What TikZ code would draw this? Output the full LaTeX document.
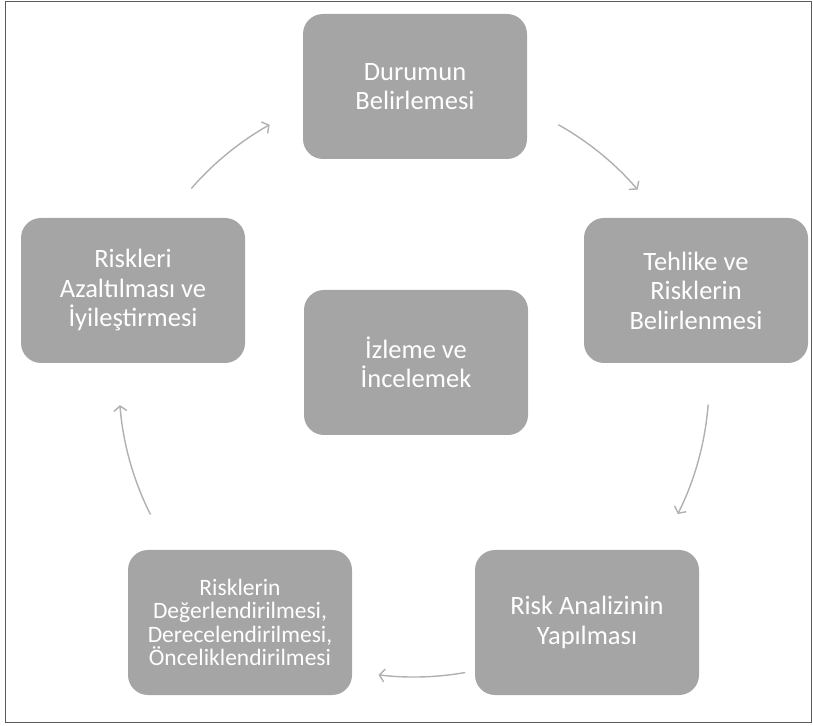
\documentclass[tikz,border=0pt]{standalone}
\usepackage{fontspec}
\setmainfont{Carlito}
\usetikzlibrary{arrows.meta}
\definecolor{boxgray}{HTML}{A5A5A5}
\definecolor{arrowgray}{HTML}{B0B0B0}
\definecolor{framegray}{HTML}{5A5A5A}
\begin{document}
\begin{tikzpicture}[x=1pt,y=1pt,
  stage/.style={fill=boxgray, rounded corners=20pt, minimum width=224pt,
    minimum height=145pt, text=white, align=center, inner sep=0pt,
    font=\fontsize{26.5}{29.5}\selectfont},
  smalltext/.style={font=\fontsize{23.5}{23.5}\selectfont},
  flow/.style={draw=arrowgray, line width=1.4pt,
    -{Straight Barb[length=5pt,width=13pt]}}]
\useasboundingbox (0,0) rectangle (813,725);
% outer frame
\draw[framegray, line width=1pt] (5.5,3) rectangle (811,723.5);

% the six stages
\node[stage] (durum)  at (415,638.5) {Durumun\\Belirlemesi};
\node[stage] (tehlike) at (696,434.5) {Tehlike ve\\Risklerin\\Belirlenmesi};
\node[stage] (analiz) at (587,102.5) {Risk Analizinin\\Yapılması};
\node[stage, smalltext] (degerl) at (240,102.5)
  {Risklerin\\Değerlendirilmesi,\\Derecelendirilmesi,\\Önceliklendirilmesi};
\node[stage] (azalt)  at (133,434.5) {Riskleri\\Azaltılması ve\\İyileştirmesi};
\node[stage] (izleme) at (416,362.5) {İzleme ve\\İncelemek};

% cycle arrows: arcs on one circle around the centre stage
\coordinate (ctr) at (414,343);
\path (ctr) ++(139:295)    coordinate (f1);
\path (ctr) ++(60.7:295)   coordinate (f2);
\path (ctr) ++(-4.4:295)   coordinate (f3);
\path (ctr) ++(-80:295)    coordinate (f4);
\path (ctr) ++(-153.3:295) coordinate (f5);

\draw[flow] (f1) arc[start angle=139,    end angle=119.3,  radius=295];
\draw[flow] (f2) arc[start angle=60.7,   end angle=40.7,   radius=295];
\draw[flow] (f3) arc[start angle=-4.4,   end angle=-26.6,  radius=295];
\draw[flow] (f4) arc[start angle=-80,    end angle=-96.9,  radius=295];
\draw[flow] (f5) arc[start angle=-153.3, end angle=-175.5, radius=295];
\end{tikzpicture}
\end{document}
